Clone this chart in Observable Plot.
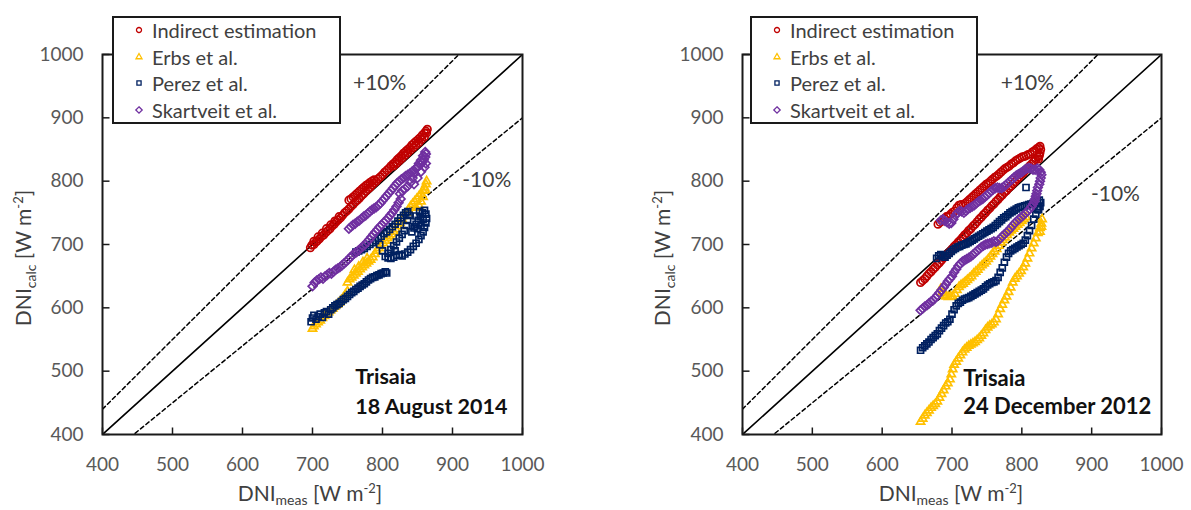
<!DOCTYPE html>
<html><head><meta charset="utf-8">
<script src="https://cdn.jsdelivr.net/npm/d3@7"></script>
<script src="https://cdn.jsdelivr.net/npm/@observablehq/plot@0.6"></script>
<style>
body{margin:0;background:#fff;font-family:Lato,sans-serif;}
#wrap{position:relative;width:1191px;height:510px;overflow:hidden;background:#fff;}
#wrap svg.plot{position:absolute;top:0;}
.legend{position:absolute;box-sizing:border-box;border:2px solid #1a1a1a;background:#fff;}
.legend .row{position:absolute;height:22px;line-height:22px;font-size:20px;color:#404040;white-space:nowrap;}
.legend svg{position:absolute;}
</style></head>
<body><div id="wrap"></div>
<script>
// ---------- series definitions ----------
const seriesNames = ["Indirect estimation", "Erbs et al.", "Perez et al.", "Skartveit et al."];
const seriesColors = ["#C00000", "#FFC000", "#002060", "#7030A0"];
const seriesSymbols = ["circle", "triangle2", "square2", "diamond2"];
const seriesRadius = [3.7, 3.9, 3.8, 3.9];

const xTicks = [400, 500, 600, 700, 800, 900, 1000];
const yTicks = [400, 500, 600, 700, 800, 900, 1000];

const refOneToOne = [[400,400],[1000,1000]];
const refPlus10 = [[400,440],[1000,1100]];
const refMinus10 = [[400,360],[1000,900]];

// ---------- Panel 1 : Trisaia, 18 August 2014 ----------
const aug_indirect = [[697,695],[699,699],[702,700],[705,704],[707,706],[710,709],[713,713],[716,715],[719,719],[722,722],[725,725],[728,729],[731,732],[734,736],[737,739],[740,742],[743,746],[746,750],[749,753],[752,756],[755,760],[758,763],[761,767],[764,770],[767,773],[770,777],[773,780],[776,784],[779,787],[782,790],[785,794],[788,797],[791,800],[794,804],[797,807],[800,810],[803,814],[806,817],[809,820],[812,824],[815,827],[818,830],[821,834],[824,837],[827,840],[830,844],[833,847],[836,850],[839,853],[842,857],[845,860],[848,863],[851,866],[854,869],[857,873],[860,876],[862,879],[864,882],[863,876],[860,870],[856,866],[852,861],[848,857],[844,853],[840,849],[836,845],[832,841],[828,836],[824,832],[820,828],[816,824],[752,770],[755,772],[758,775],[761,778],[764,781],[767,784],[770,787],[773,790],[776,793],[779,795],[782,798],[785,800],[788,802],[702,705],[708,712],[714,718],[720,725],[726,731],[732,737],[738,744]];
const aug_erbs = [[700,567],[702,571],[705,574],[708,577],[711,580],[714,584],[717,587],[720,590],[723,593],[726,596],[729,599],[732,602],[735,605],[738,608],[741,612],[744,616],[747,621],[750,626],[750,640],[753,645],[756,648],[759,651],[762,654],[765,657],[768,661],[771,664],[774,667],[777,670],[780,673],[783,676],[786,680],[789,685],[792,690],[795,694],[798,698],[801,702],[804,706],[807,710],[810,713],[813,716],[816,720],[819,724],[822,729],[825,734],[828,740],[831,745],[834,750],[837,755],[840,760],[843,764],[846,768],[849,772],[852,776],[855,780],[858,785],[860,790],[862,795],[863,800],[861,786],[858,775],[855,768],[852,762],[848,758],[760,660],[766,665],[772,672],[778,678]];
const aug_perez = [[698,578],[700,584],[702,588],[705,582],[708,586],[711,590],[714,585],[717,592],[720,594],[723,590],[726,597],[729,600],[732,603],[735,605],[738,607],[741,610],[744,613],[747,615],[750,618],[753,621],[756,624],[759,626],[762,629],[765,631],[768,634],[771,636],[774,638],[777,641],[780,644],[783,646],[786,648],[789,649],[792,651],[795,652],[798,654],[801,655],[804,657],[806,655],[762,688],[766,690],[770,692],[774,694],[778,697],[782,700],[786,703],[790,706],[794,710],[798,713],[802,717],[806,720],[810,724],[814,728],[818,732],[822,737],[826,742],[830,746],[833,750],[836,752],[838,746],[836,738],[834,730],[831,722],[828,716],[824,710],[820,704],[816,698],[812,692],[808,686],[804,681],[808,679],[812,678],[816,680],[820,683],[824,684],[828,682],[832,685],[836,688],[840,692],[844,697],[848,702],[852,708],[855,714],[858,720],[860,727],[862,734],[863,741],[862,748],[860,754],[857,750],[854,744],[851,738],[848,732],[845,726],[842,720],[846,728],[850,725],[855,730],[858,740],[853,752],[848,745],[800,690],[796,700],[818,690]];
const aug_skartveit = [[700,634],[703,640],[706,643],[709,645],[712,648],[715,646],[718,650],[721,652],[724,655],[727,654],[730,657],[733,660],[736,662],[739,664],[742,667],[745,670],[748,673],[751,676],[754,680],[757,683],[760,686],[763,688],[766,691],[769,694],[772,697],[775,700],[778,704],[781,708],[784,712],[787,716],[790,720],[793,724],[796,728],[799,731],[802,735],[805,738],[808,742],[811,746],[814,750],[817,755],[820,760],[823,766],[826,772],[752,725],[755,728],[758,731],[761,733],[764,736],[767,738],[770,741],[773,744],[776,746],[779,749],[782,752],[785,755],[788,757],[791,759],[794,762],[797,765],[800,769],[803,773],[806,777],[809,781],[812,785],[815,789],[818,793],[821,797],[824,800],[827,803],[830,805],[833,808],[836,810],[839,812],[842,815],[845,817],[848,820],[851,823],[854,826],[857,830],[859,834],[861,838],[862,843],[861,846],[858,840],[855,833],[852,828],[849,822],[846,812],[843,805],[840,798],[836,792],[832,788],[828,785],[825,780],[845,795],[850,805],[855,815],[860,822],[862,828]];

// ---------- Panel 2 : Trisaia, 24 December 2012 ----------
const dec_indirect = [[680,732],[683,735],[686,737],[689,741],[692,744],[695,745],[698,748],[701,751],[704,753],[707,758],[710,762],[713,763],[716,762],[719,765],[722,768],[725,771],[728,774],[731,777],[734,780],[737,783],[740,786],[743,789],[746,792],[749,795],[752,797],[755,800],[758,803],[761,806],[764,808],[767,811],[770,814],[773,817],[776,820],[779,822],[782,824],[785,827],[788,829],[791,832],[794,834],[797,836],[800,838],[803,839],[806,840],[809,842],[812,843],[815,846],[818,848],[821,851],[824,853],[826,855],[827,850],[826,845],[825,840],[824,835],[655,640],[658,643],[661,646],[664,650],[667,654],[670,657],[673,661],[676,664],[679,668],[682,671],[685,675],[688,679],[691,682],[694,686],[697,689],[700,693],[703,697],[706,700],[709,704],[712,707],[715,711],[718,715],[721,718],[724,722],[727,725],[730,729],[733,732],[736,736],[739,740],[742,743],[745,747],[748,750],[751,754],[754,757],[757,761],[760,764],[763,768],[766,771],[769,775],[772,778],[775,782],[778,785],[781,789],[784,792],[787,796],[790,799],[793,803],[796,806],[799,810],[802,813],[805,817],[808,820],[811,824],[814,827],[817,831],[820,834],[823,838],[825,842]];
const dec_erbs = [[684,630],[686,624],[689,620],[692,618],[695,617],[698,618],[701,618],[704,622],[707,628],[710,633],[713,636],[716,638],[719,641],[722,644],[725,647],[728,650],[731,654],[734,657],[737,660],[740,664],[743,667],[746,670],[749,673],[752,677],[755,681],[758,685],[761,689],[764,693],[767,698],[770,703],[773,707],[776,711],[779,715],[782,719],[785,722],[788,725],[791,728],[794,731],[797,734],[800,737],[803,740],[806,743],[655,420],[658,425],[661,430],[664,434],[667,438],[670,442],[673,445],[676,448],[679,452],[682,458],[685,464],[688,470],[691,476],[694,481],[697,487],[699,495],[701,503],[703,510],[706,515],[709,520],[712,525],[715,530],[718,534],[721,537],[724,540],[727,542],[730,544],[733,546],[736,549],[739,552],[742,556],[745,560],[748,565],[751,569],[754,572],[757,574],[760,577],[763,582],[766,590],[769,598],[772,605],[775,612],[778,618],[781,625],[784,632],[787,640],[790,646],[793,650],[796,654],[799,658],[802,664],[805,670],[808,678],[811,686],[814,694],[817,702],[820,710],[823,718],[826,726],[828,733],[829,740],[828,728],[826,720]];
const dec_perez = [[678,678],[681,682],[684,684],[687,682],[690,680],[693,683],[696,686],[699,689],[702,692],[705,694],[708,696],[711,697],[714,699],[717,700],[720,701],[723,703],[726,705],[729,707],[732,709],[735,711],[738,713],[741,715],[744,717],[747,719],[750,721],[753,723],[756,725],[759,727],[762,730],[765,733],[768,736],[771,739],[774,742],[777,744],[780,747],[783,750],[786,752],[789,754],[792,756],[795,758],[798,759],[801,760],[804,761],[807,762],[810,763],[813,764],[816,765],[819,766],[822,768],[825,770],[827,766],[826,760],[824,755],[806,790],[655,533],[658,537],[661,540],[664,543],[667,546],[670,550],[673,553],[676,556],[679,559],[682,564],[685,568],[688,572],[691,576],[694,578],[697,582],[700,590],[703,597],[706,603],[709,607],[712,609],[715,612],[718,614],[721,615],[724,616],[727,618],[730,620],[733,622],[736,624],[739,626],[742,628],[745,630],[748,633],[751,636],[754,638],[757,640],[760,641],[763,643],[766,648],[769,656],[772,663],[775,672],[778,680],[781,686],[784,690],[787,692],[790,694],[793,696],[796,698],[799,700],[802,702],[805,707],[808,714],[811,722],[814,730],[817,740],[820,748],[822,755],[824,760]];
const dec_skartveit = [[684,738],[687,740],[690,737],[693,735],[696,733],[699,734],[702,740],[705,746],[708,750],[711,753],[714,752],[717,750],[720,753],[723,756],[726,758],[729,760],[732,762],[735,765],[738,768],[741,770],[744,772],[747,775],[750,778],[753,781],[756,784],[759,787],[762,789],[765,790],[768,789],[771,789],[774,791],[777,794],[780,797],[783,800],[786,803],[789,806],[792,809],[795,811],[798,813],[801,815],[804,818],[807,820],[810,821],[813,820],[816,818],[819,818],[822,820],[825,818],[827,814],[828,810],[827,805],[826,800],[825,795],[823,790],[822,785],[821,780],[820,776],[819,772],[818,768],[655,596],[658,599],[661,602],[664,604],[667,607],[670,610],[673,612],[676,616],[679,620],[682,624],[685,628],[688,632],[691,637],[694,642],[697,646],[700,650],[703,656],[706,661],[709,666],[712,670],[715,673],[718,675],[721,677],[724,679],[727,681],[730,684],[733,687],[736,690],[739,693],[742,696],[745,698],[748,700],[751,701],[754,702],[757,703],[760,705],[763,704],[766,706],[769,709],[772,713],[775,716],[778,719],[781,722],[784,726],[787,730],[790,734],[793,737],[796,740],[799,743],[802,746],[805,749],[808,752],[811,756],[814,760],[816,764]];

// ---------- annotations ----------
const augBands = [{x:796, y:954, t:"+10%"}, {x:949, y:801, t:"-10%"}];
const decBands = [{x:808, y:954, t:"+10%"}, {x:934, y:780, t:"-10%"}];
const augSite = [{x:761, y:490, t:"Trisaia"}, {x:761, y:443, t:"18 August 2014"}];
const decSite = [{x:716, y:488, t:"Trisaia"}, {x:716, y:443, t:"24 December 2012"}];

const tickRight = {draw(ctx){ ctx.moveTo(0,0); ctx.lineTo(7,0); }};
const tickUp = {draw(ctx){ ctx.moveTo(0,0); ctx.lineTo(0,-7); }};

const wrap = document.getElementById("wrap");

function makePanel({series, bands, site, left, width, mL, mR, xTitleX, yTitleX, siteSize}) {
  const marks = [
    Plot.line(refPlus10, {x: d => d[0], y: d => d[1], stroke: "#000", strokeWidth: 1.5, strokeDasharray: "4,3", clip: true}),
    Plot.line(refMinus10, {x: d => d[0], y: d => d[1], stroke: "#000", strokeWidth: 1.5, strokeDasharray: "4,3", clip: true}),
    Plot.line(refOneToOne, {x: d => d[0], y: d => d[1], stroke: "#000", strokeWidth: 1.6, clip: true})
  ];
  series.forEach((pts, i) => {
    marks.push(Plot.dot(pts, {x: d => d[0], y: d => d[1], symbol: seriesSymbols[i], r: seriesRadius[i],
      stroke: seriesColors[i], fill: "none", strokeWidth: 1.7}));
  });
  marks.push(
    Plot.frame({stroke: "#1a1a1a", strokeWidth: 2}),
    Plot.axisX(xTicks, {tickSize: 0, tickPadding: 23, tickFormat: d => String(d), color: "#595959", fontSize: 19, label: null}),
    Plot.axisY(yTicks, {tickSize: 0, tickPadding: 19, tickFormat: d => String(d), color: "#595959", fontSize: 19, label: null}),
    Plot.dot(xTicks, {x: d => d, y: 400, symbol: tickUp, stroke: "#1a1a1a", fill: "none", strokeWidth: 1.5}),
    Plot.dot(yTicks, {x: 400, y: d => d, symbol: tickRight, stroke: "#1a1a1a", fill: "none", strokeWidth: 1.5}),
    Plot.text(bands, {x: "x", y: "y", text: "t", fontSize: 21, fill: "#404040", textAnchor: "middle"}),
    Plot.text(site, {x: "x", y: "y", text: "t", fontSize: siteSize, fontWeight: "bold", fill: "#111", textAnchor: "start"})
  );
  const svg = Plot.plot({
    width, height: 510, marginLeft: mL, marginRight: mR, marginTop: 54, marginBottom: 76,
    x: {domain: [400, 1000]}, y: {domain: [400, 1000]},
    style: {fontFamily: "Lato", background: "transparent", overflow: "visible"},
    marks
  });
  svg.classList.add("plot");
  svg.style.left = left + "px";
  const s = d3.select(svg);
  // x title
  const xt = s.append("text").attr("x", xTitleX).attr("y", 501).attr("text-anchor", "middle")
    .attr("font-size", 21).attr("fill", "#404040").attr("font-family", "Lato");
  xt.append("tspan").text("DNI");
  xt.append("tspan").attr("font-size", 14).attr("dy", 4).text("meas");
  xt.append("tspan").attr("dy", -4).text(" [W m");
  xt.append("tspan").attr("font-size", 13).attr("dy", -8).text("-2");
  xt.append("tspan").attr("dy", 8).text("]");
  // y title
  const yt = s.append("text").attr("transform", `translate(${yTitleX},258) rotate(-90)`).attr("text-anchor", "middle")
    .attr("font-size", 21).attr("fill", "#404040").attr("font-family", "Lato");
  yt.append("tspan").text("DNI");
  yt.append("tspan").attr("font-size", 14).attr("dy", 5).text("calc");
  yt.append("tspan").attr("dy", -5).text(" [W m");
  yt.append("tspan").attr("font-size", 13).attr("dy", -8).text("-2");
  yt.append("tspan").attr("dy", 8).text("]");
  wrap.appendChild(svg);
}

function makeLegend(left, top, w) {
  const box = document.createElement("div");
  box.className = "legend";
  box.style.left = left + "px"; box.style.top = top + "px";
  box.style.width = w + "px"; box.style.height = "108px";
  const rowCenters = [14, 41, 67, 94];
  seriesNames.forEach((name, i) => {
    const sv = d3.create("svg").attr("width", 12).attr("height", 12)
      .style("left", (27 - 6 - 2) + "px").style("top", (rowCenters[i] - 6 - 2) + "px");
    sv.append("path").attr("transform", "translate(6,6)")
      .attr("d", d3.symbol(d3["symbol" + ["Circle","Triangle2","Square2","Diamond2"][i]], [20, 26, 22, 26][i])())
      .attr("fill", "none").attr("stroke", seriesColors[i]).attr("stroke-width", 1.3);
    box.appendChild(sv.node());
    const row = document.createElement("div");
    row.className = "row";
    row.style.left = (40 - 2) + "px"; row.style.top = (rowCenters[i] - 11 - 2) + "px";
    row.textContent = name;
    box.appendChild(row);
  });
  wrap.appendChild(box);
}

makePanel({series: [aug_indirect, aug_erbs, aug_perez, aug_skartveit], bands: augBands, site: augSite,
  left: 0, width: 600, mL: 102, mR: 78, xTitleX: 310, yTitleX: 31, siteSize: 21.5});
makePanel({series: [dec_indirect, dec_erbs, dec_perez, dec_skartveit], bands: decBands, site: decSite,
  left: 600, width: 591, mL: 142, mR: 30, xTitleX: 351, yTitleX: 70, siteSize: 22});
makeLegend(112, 16, 229);
makeLegend(750, 16, 228);
</script></body></html>
